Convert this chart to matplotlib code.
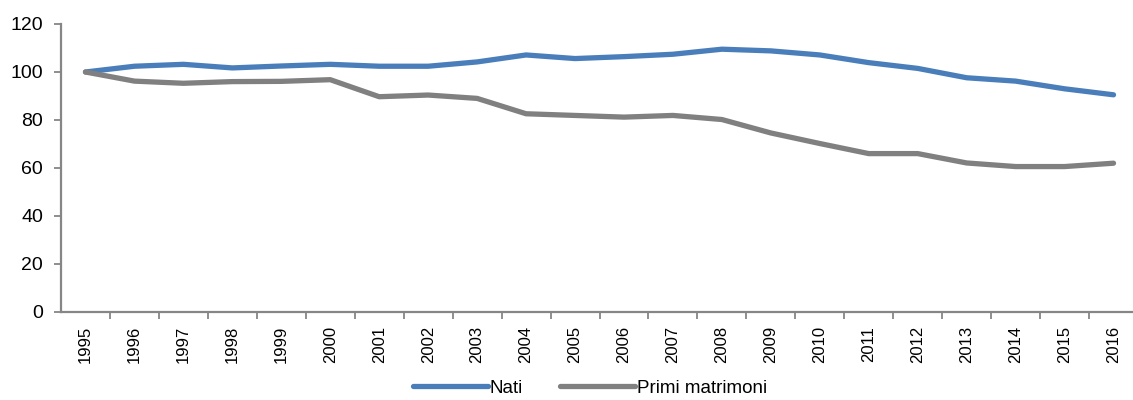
import matplotlib
matplotlib.use("Agg")
import matplotlib.pyplot as plt

years = [str(y) for y in range(1995, 2017)]
nati = [100, 102.4, 103.2, 101.7, 102.5, 103.2, 102.4, 102.4, 104.2, 107.1, 105.6,
        106.4, 107.4, 109.5, 108.8, 107.1, 103.9, 101.5, 97.6, 96.2, 93.0, 90.5]
primi_matrimoni = [100, 96.2, 95.3, 96.0, 96.1, 96.8, 89.7, 90.4, 89.0, 82.6, 81.9,
                   81.2, 81.9, 80.2, 74.6, 70.2, 66.0, 66.0, 62.1, 60.6, 60.6, 62.0]

plt.rcParams['font.family'] = ['Liberation Sans', 'DejaVu Sans']

fig = plt.figure(figsize=(11.33, 4.0), dpi=100)
ax = fig.add_axes([61 / 1133, 1 - 312 / 400, 1077 / 1133, 288 / 400])

x = range(len(years))
ax.plot(x, nati, color='#4A7EBB', lw=3.8, solid_capstyle='round', label='Nati')
ax.plot(x, primi_matrimoni, color='#808080', lw=3.8, solid_capstyle='round',
        label='Primi matrimoni')

ax.set_xlim(-0.5, len(years) - 0.5)
ax.set_ylim(0, 120)
ax.set_yticks(range(0, 121, 20))
ax.tick_params(axis='y', labelsize=14, length=5, color='#868686', width=1.3, pad=8)

# category labels centred, tick marks between categories
ax.set_xticks(list(x))
ax.set_xticklabels(years, rotation=90, fontsize=12)
ax.tick_params(axis='x', length=0, pad=10)
ax.set_xticks([i + 0.5 for i in range(len(years))], minor=True)
ax.tick_params(axis='x', which='minor', length=5, color='#868686', width=1.3)

for side in ['top', 'right']:
    ax.spines[side].set_visible(False)
for side in ['left', 'bottom']:
    ax.spines[side].set_color('#868686')
    ax.spines[side].set_linewidth(1.6)

fig.legend(loc='center', bbox_to_anchor=(590 / 1133, 1 - 388 / 400), ncol=2,
           frameon=False, fontsize=13.5, handlelength=4.0, handletextpad=0.1,
           columnspacing=2.0, borderpad=0)

fig.savefig('out.png', dpi=100)
